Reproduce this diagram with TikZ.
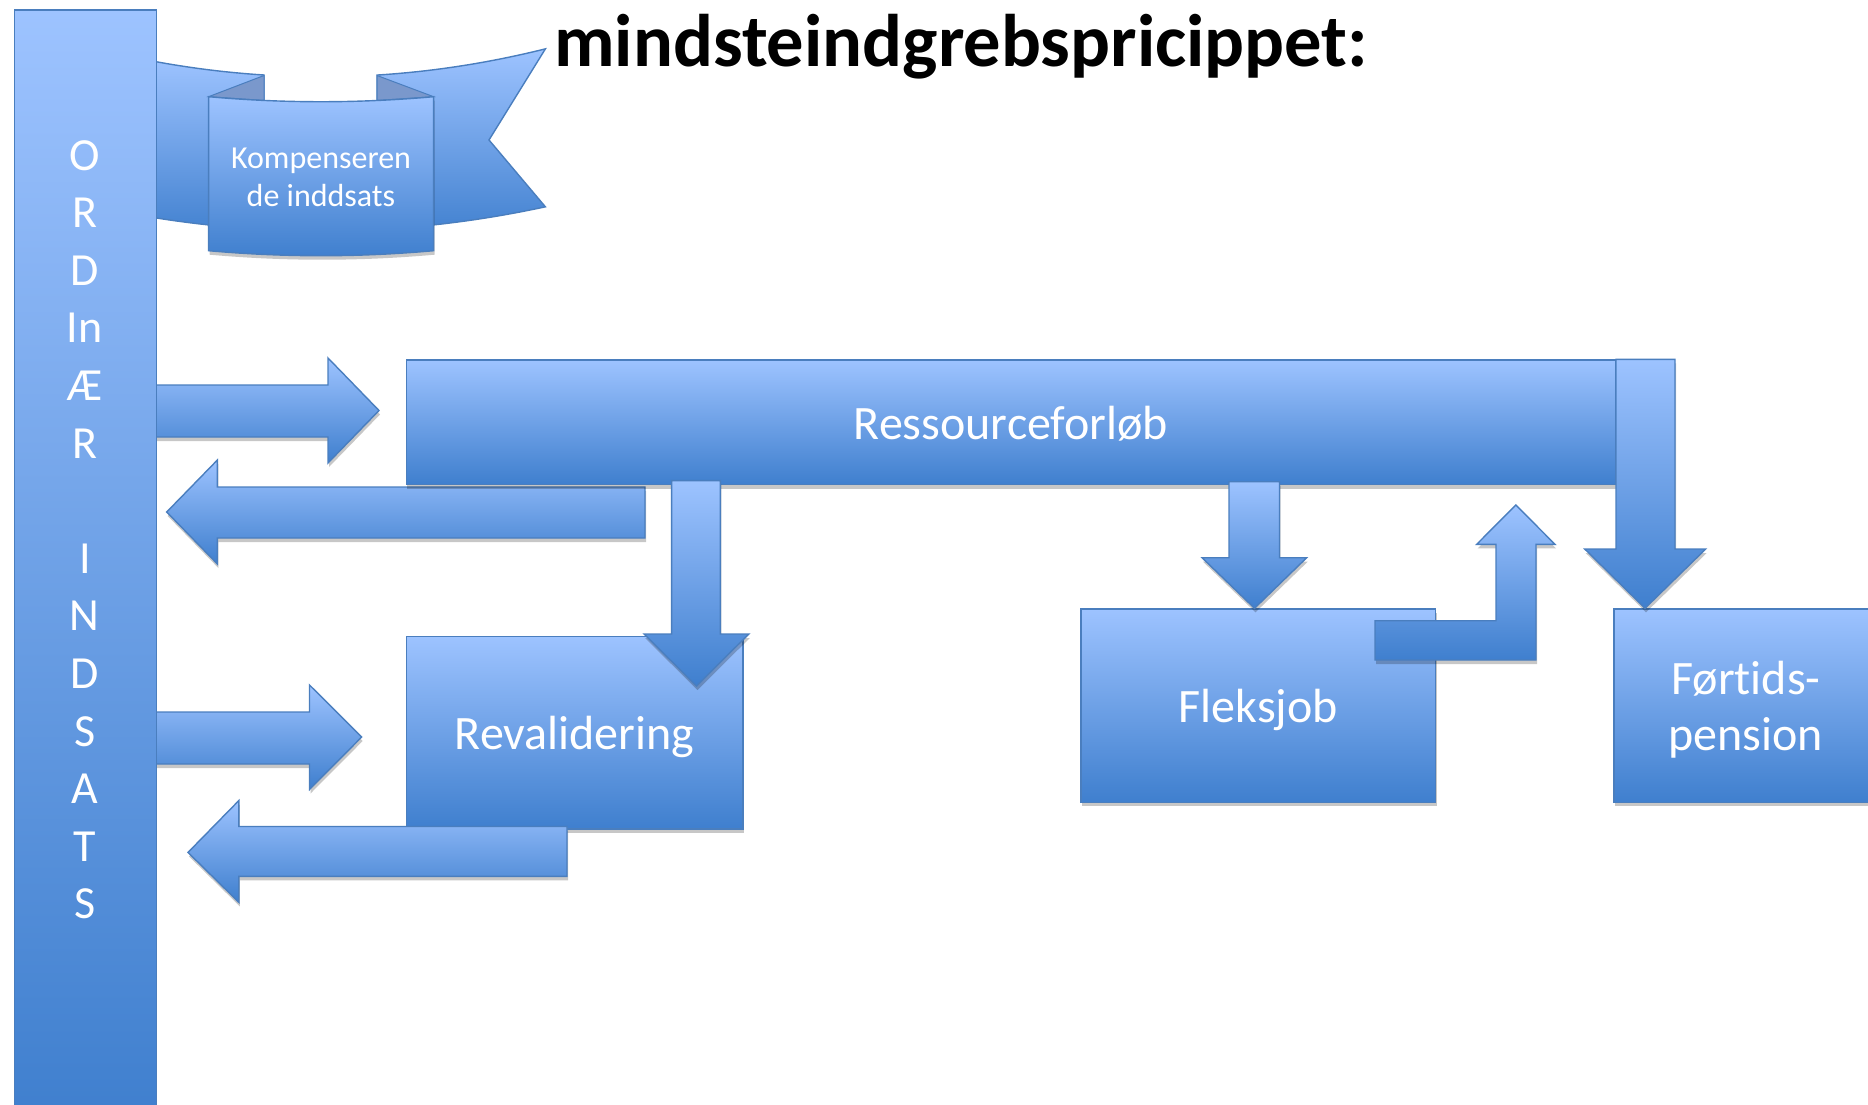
\documentclass[tikz,border=0pt]{standalone}
\usepackage{fontspec}
\setmainfont{Carlito}[Ligatures={NoCommon}]
\usetikzlibrary{shadows}
\definecolor{lt}{RGB}{157,195,255}
\definecolor{dk}{RGB}{63,127,206}
\definecolor{ol}{RGB}{74,126,190}
\definecolor{flapc}{RGB}{122,152,204}
\begin{document}
\begin{tikzpicture}[x=1pt,y=-1pt,
  shp/.style={draw=ol, line width=1.4pt, top color=lt, bottom color=dk, line join=miter},
  shd/.style={drop shadow={shadow xshift=1pt, shadow yshift=-4pt, opacity=.22, fill=black}},
  box/.style={shp, shd, anchor=north west, inner sep=0pt, text=white, text depth=0pt,
    font=\fontsize{48}{56.7}\selectfont, align=center},
  barletter/.style={anchor=base, text=white, inner sep=0pt, font=\fontsize{46}{56}\selectfont},
  ribbontext/.style={anchor=base, text=white, inner sep=0pt, font=\fontsize{32}{38}\selectfont},
  flap/.style={draw=ol, line width=1pt, fill=flapc},
]
\useasboundingbox (0,0) rectangle (1868,1105);
\clip (0,0) rectangle (1868,1105);

% ---------- ribbon ----------
\path[shp] plot[domain=140:264,samples=30] (\x,{76.8-5.55*((\x-321)/100)^2})
  -- (264,240) -- (208.6,226)
  -- plot[domain=208.6:140,samples=20] (\x,{231-4.8*((\x-321)/100)^2}) -- cycle;
\path[shp] (377,240)
  -- plot[domain=377:545.4,samples=40] (\x,{76.8-5.55*((\x-321)/100)^2})
  -- (489,140)
  -- plot[domain=545.4:433.6,samples=30] (\x,{231-4.8*((\x-321)/100)^2}) -- cycle;
\path[flap] (208.6,96.7) -- (264,75.5) -- (264,100.5) -- cycle;
\path[flap] (377,75.5) -- (433.6,96.7) -- (377,100.5) -- cycle;
\path[shp, shd] (208.6,96.7) .. controls (283.6,103.4) and (358.6,103.4) .. (433.6,96.7)
  -- (433.6,250.7) .. controls (358.6,257.4) and (283.6,257.4) .. (208.6,250.7) -- cycle;
\node[ribbontext] (komp1) at (321,168) {Kompenseren};
\node[ribbontext] (komp2) at (321,206.5) {de inddsats};

% ---------- title ----------
\node[anchor=base west, inner sep=0pt, font=\fontsize{74.5}{80}\selectfont\bfseries] (title)
  at (554,67) {mindsteindgrebspricippet:};

% ---------- arrows at the bar ----------
\path[shp, shd] (150,385) -- (328,385) -- (328,358) -- (379,410.5) -- (328,463)
  -- (328,437) -- (150,437) -- cycle;
\path[shp, shd] (645,487) -- (217.4,487) -- (217.4,460) -- (166.7,512) -- (217.4,564)
  -- (217.4,538) -- (645,538) -- cycle;
\path[shp, shd] (150,712) -- (309.5,712) -- (309.5,685) -- (361.7,737) -- (309.5,789.5)
  -- (309.5,764) -- (150,764) -- cycle;

% ---------- vertical bar ----------
\node[shp, anchor=north west, minimum width=142, minimum height=1110, inner sep=0pt]
  (bar) at (13.8,9.3) {};
\foreach \t [count=\i from 0] in {O,R,D,In,Æ,R,{},I,N,D,S,A,T,S}
  \node[barletter] (bl\i) at (84.8,{170+57.6*\i}) {\t};

% ---------- Ressourceforløb ----------
\node[box, minimum width=1209.5, minimum height=124.7] (res) at (405.5,359.3) {Ressourceforløb};

% ---------- Revalidering ----------
\node[box, minimum width=336.8, minimum height=192.3] (reval) at (405.5,636) {Revalidering};
\path[shp, shd] (671.6,480.6) -- (720.4,480.6) -- (720.4,634) -- (748.8,634) -- (696.5,686)
  -- (644,634) -- (671.6,634) -- cycle;
\path[shp, shd] (567,826.5) -- (238.8,826.5) -- (238.8,800.6) -- (188,852.4) -- (238.8,902.3)
  -- (238.8,876.4) -- (567,876.4) -- cycle;

% ---------- Fleksjob ----------
\node[box, minimum width=354.7, minimum height=193.4] (fleks) at (1080.3,608.3) {Fleksjob};
\path[shp, shd] (1229,481.7) -- (1279.5,481.7) -- (1279.5,557.7) -- (1306.7,557.7) -- (1254.5,608.3)
  -- (1202,557.7) -- (1229,557.7) -- cycle;
\path[shp, shd] (1375,620.7) -- (1496,620.7) -- (1496,544.3) -- (1476.7,544.3) -- (1515.8,505)
  -- (1555,544.3) -- (1536,544.3) -- (1536,660) -- (1375,660) -- cycle;

% ---------- Førtidspension ----------
\node[box, minimum width=263.6, minimum height=193.4] (fort) at (1613.4,608.3) {Førtids-\\pension};
\path[shp, shd] (1616,359.3) -- (1675,359.3) -- (1675,549) -- (1705.7,549) -- (1645,608.3)
  -- (1584.7,549) -- (1616,549) -- cycle;
\end{tikzpicture}
\end{document}
